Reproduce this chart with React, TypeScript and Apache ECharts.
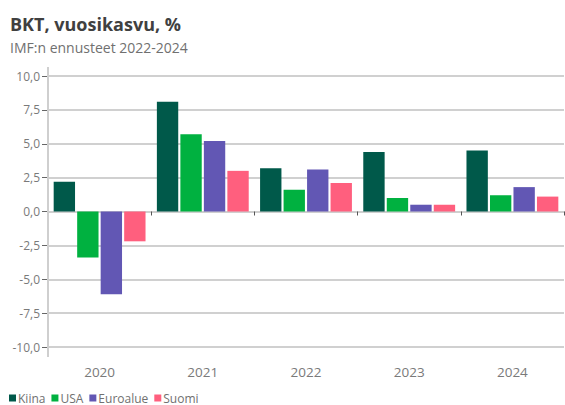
import React, { useEffect, useRef } from "react";
import * as echarts from "echarts";

const years = ["2020", "2021", "2022", "2023", "2024"];
const kiina = [2.2, 8.1, 3.2, 4.4, 4.5];
const usa = [-3.4, 5.7, 1.6, 1.0, 1.2];
const euroalue = [-6.1, 5.2, 3.1, 0.5, 1.8];
const suomi = [-2.2, 3.0, 2.1, 0.5, 1.1];
const seriesNames = ["Kiina", "USA", "Euroalue", "Suomi"];
const colors = ["#00594a", "#00b140", "#6257b4", "#ff5f7e"];

export default function App() {
  const ref = useRef<HTMLDivElement>(null);
  useEffect(() => {
    if (!ref.current) return;
    const chart = echarts.init(ref.current, null, { renderer: "svg" });
    const font = "'Open Sans', 'Noto Sans', sans-serif";
    const data = [kiina, usa, euroalue, suomi];
    chart.setOption({
      animation: false,
      textStyle: { fontFamily: font },
      title: {
        text: "BKT, vuosikasvu, %",
        subtext: "IMF:n ennusteet 2022-2024",
        left: 5,
        top: 10,
        itemGap: 7,
        textStyle: { fontSize: 18, fontWeight: "bold", color: "#404040", fontFamily: font },
        subtextStyle: { fontSize: 14, color: "#707070", fontFamily: font },
      },
      legend: {
        left: 4,
        bottom: 0,
        padding: [2, 5, 1, 5],
        itemWidth: 7,
        itemHeight: 7,
        itemGap: 6,
        icon: "rect",
        textStyle: { fontSize: 12, color: "#707070", padding: [0, 0, 0, -3], fontFamily: font },
        data: seriesNames,
      },
      grid: { left: 48, right: 1, top: 76, bottom: 58, containLabel: false },
      xAxis: {
        type: "category",
        data: years,
        offset: 10,
        axisLine: { show: true, lineStyle: { color: "#cfcfcf", width: 2 } },
        axisTick: { show: true, length: 4, lineStyle: { color: "#555", width: 1 } },
        axisLabel: { fontSize: 13.5, color: "#7a7a7a", margin: 8 },
      },
      yAxis: {
        type: "value",
        min: -10,
        max: 10,
        interval: 2.5,
        axisLine: { show: false },
        axisTick: { show: true, length: 6, lineStyle: { color: "#666", width: 1 } },
        axisLabel: {
          fontSize: 12,
          color: "#7a7a7a",
          margin: 8,
          formatter: (v: number) => v.toFixed(1).replace(".", ","),
        },
        splitLine: { show: true, lineStyle: { color: "#d0d0d0", width: 2 } },
      },
      graphic: [
        {
          type: "line",
          shape: { x1: 48, y1: 67, x2: 48, y2: 357 },
          style: { stroke: "#cfcfcf", lineWidth: 2 },
          z: 10,
        },
      ],
      series: data.map((d, i) => ({
        name: seriesNames[i],
        type: "bar",
        data: d,
        barCategoryGap: "11%",
        barGap: "10%",
        itemStyle: { color: colors[i] },
      })),
    });
    return () => chart.dispose();
  }, []);
  return <div ref={ref} style={{ width: 565, height: 405, position: "absolute", left: 0, top: 0 }} />;
}
